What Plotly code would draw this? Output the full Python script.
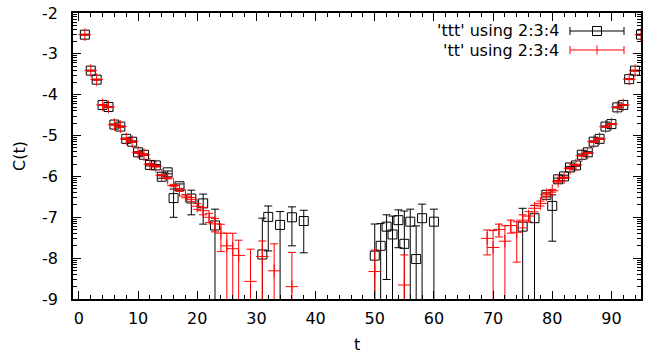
import plotly.graph_objects as go

# ---- data: 'ttt' (black squares) ----
t_ttt = [1, 2, 3, 4, 5, 6, 7, 8, 9, 10, 11, 12, 13, 14, 15, 16, 17, 19, 21, 23,
         31, 32, 34, 36, 38, 50, 51, 52, 53, 54, 55, 56, 57, 58, 60, 75, 77, 79, 80,
         81, 82, 83, 84, 85, 86, 87, 88, 89, 90, 91, 92, 93, 94, 95]
c_ttt = [2.95e-3, 3.89e-4, 2.34e-4, 5.62e-5, 5.01e-5, 1.86e-5, 1.66e-5, 8.32e-6, 7.08e-6,
         3.89e-6, 3.39e-6, 1.91e-6, 1.86e-6, 9.8e-7, 1.26e-6, 2.95e-7, 5.75e-7, 2.88e-7,
         2.19e-7, 6.3e-8,
         1.23e-8, 1.02e-7, 6.5e-8, 1.0e-7, 8.1e-8,
         1.15e-8, 2.0e-8, 5.9e-8, 3.8e-8, 8.5e-8, 2.24e-8, 7.8e-8, 9.5e-9, 9.5e-8, 7.8e-8,
         5.9e-8, 9.5e-8, 3.55e-7, 1.9e-7,
         8.5e-7, 1.0e-6, 1.66e-6, 1.86e-6, 3.39e-6, 3.89e-6, 7.08e-6, 8.32e-6, 1.66e-5,
         1.91e-5, 4.9e-5, 5.62e-5, 2.4e-4, 3.89e-4, 2.95e-3]
e_ttt = [6e-5, 8e-6, 5e-6, 1.2e-6, 1.1e-6, 5e-7, 5e-7, 3e-7, 3e-7,
         1.5e-7, 1.5e-7, 1e-7, 1e-7, 8e-8, 1e-7, 1.95e-7, 8e-8, 1.73e-7,
         1.51e-7, 9.5e-8,
         8.3e-8, 8.7e-8, 7.3e-8, 8e-8, 6.75e-8,
         5.7e-8, 5e-8, 5.6e-8, 6.9e-8, 6.7e-8, 1.2e-7, 8e-8, 5.2e-8, 1.15e-7, 8e-8,
         1.07e-7, 1.0e-7, 4e-8, 1.64e-7,
         6e-8, 7e-8, 8e-8, 8e-8, 1.5e-7, 1.5e-7, 3e-7, 3e-7, 5e-7,
         5e-7, 1.1e-6, 1.2e-6, 5e-6, 8e-6, 6e-5]

# ---- data: 'tt' (red plus) ----
t_tt = [1, 2, 3, 4, 5, 6, 7, 8, 9, 10, 11, 12, 13, 14, 15, 16, 17, 18, 19, 20, 21, 22,
        23, 24, 25, 26, 27, 29, 31, 33, 36, 50, 55,
        69, 70, 71, 72, 73, 74, 75, 76, 77, 78, 79, 80, 81, 82, 83, 84, 85, 86,
        87, 88, 89, 90, 91, 92, 93, 94, 95]
c_tt = [2.95e-3, 3.89e-4, 2.34e-4, 5.62e-5, 5.01e-5, 1.86e-5, 1.66e-5, 8.32e-6, 7.08e-6,
        3.89e-6, 3.39e-6, 2.0e-6, 1.78e-6, 1.07e-6, 9.1e-7, 6.0e-7, 4.7e-7, 3.3e-7,
        2.75e-7, 1.86e-7, 1.45e-7, 1.0e-7,
        6.9e-8, 4.1e-8, 2.0e-8, 1.7e-8, 1.17e-8, 2.7e-9, 1.1e-8, 4.9e-9, 2.0e-9,
        4.7e-9, 2.2e-9,
        3.05e-8, 1.82e-8, 5.05e-8, 2.6e-8, 6.3e-8, 4.3e-8, 8.5e-8, 1.07e-7, 1.66e-7,
        2.19e-7, 3.55e-7, 4.47e-7, 7.6e-7, 9.3e-7, 1.58e-6, 1.91e-6, 3.24e-6, 3.72e-6,
        7.08e-6, 8.32e-6, 1.66e-5, 1.91e-5, 4.9e-5, 5.62e-5, 2.4e-4, 3.89e-4, 2.95e-3]
e_tt = [6e-5, 8e-6, 5e-6, 1.2e-6, 1.1e-6, 5e-7, 5e-7, 3e-7, 3e-7,
        1.5e-7, 1.5e-7, 8e-8, 8e-8, 4e-8, 4e-8, 4e-8, 4e-8, 3e-8,
        3e-8, 3e-8, 3e-8, 2.5e-8,
        2.5e-8, 2.65e-8, 2.07e-8, 2.37e-8, 1.58e-8, 1.39e-8, 1.53e-8, 1.75e-8, 1.18e-8,
        1.11e-8, 9.8e-9,
        1.85e-8, 2.9e-8, 1.75e-8, 3.6e-8, 2.2e-8, 3.5e-8, 3e-8, 3e-8, 3e-8,
        3e-8, 3.5e-8, 3.5e-8, 4e-8, 4e-8, 6e-8, 6e-8, 1e-7, 1e-7,
        3e-7, 3e-7, 5e-7, 5e-7, 1.1e-6, 1.2e-6, 5e-6, 8e-6, 6e-5]

x_ticks = [0, 10, 20, 30, 40, 50, 60, 70, 80, 90]
y_exponents = [-9, -8, -7, -6, -5, -4, -3, -2]
y_ticks = [10.0 ** k for k in y_exponents]
y_ticklabels = [str(k) for k in y_exponents]
y_minor = [m * 10.0 ** k for k in y_exponents[:-1] for m in range(2, 10)]
legend_labels = ["'ttt' using 2:3:4", "'tt' using 2:3:4"]
x_title = "t"
y_title = "C(t)"

W, H = 646, 354
ML, MR, MT, MB = 73, 5, 13, 55
FONT = "DejaVu Sans, Liberation Sans, sans-serif"
FS = 16

fig = go.Figure()
fig.add_trace(go.Scatter(
    x=t_ttt, y=c_ttt, mode="markers", name=legend_labels[0],
    marker=dict(symbol="square-open", size=9, color="black", line=dict(width=1, color="black")),
    error_y=dict(type="data", array=e_ttt, symmetric=True, color="black", thickness=1, width=4),
    showlegend=False))
fig.add_trace(go.Scatter(
    x=t_tt, y=c_tt, mode="markers", name=legend_labels[1],
    marker=dict(symbol="cross-thin-open", size=9, color="red", line=dict(width=1, color="red")),
    error_y=dict(type="data", array=e_tt, symmetric=True, color="red", thickness=1, width=4),
    showlegend=False))


def px_x(p):
    return (p - ML) / (W - ML - MR)


def px_y(p):
    return (H - MB - p) / (H - MT - MB)


# legend drawn gnuplot-style (text left of sample)
rows_y = [31, 50]
colors = ["black", "red"]
shapes = []
annotations = []
x0s, x1s, xm = 570, 624, 597
for i, lab in enumerate(legend_labels):
    yy = rows_y[i]
    annotations.append(dict(x=px_x(561), y=px_y(yy), xref="paper", yref="paper",
                            text=lab, showarrow=False, xanchor="right", yanchor="middle",
                            font=dict(family=FONT, size=FS, color="black")))
    c = colors[i]
    shapes.append(dict(type="line", xref="paper", yref="paper", x0=px_x(x0s), x1=px_x(x1s),
                       y0=px_y(yy), y1=px_y(yy), line=dict(color=c, width=1)))
    for xe in (x0s, x1s):
        shapes.append(dict(type="line", xref="paper", yref="paper", x0=px_x(xe), x1=px_x(xe),
                           y0=px_y(yy - 4), y1=px_y(yy + 4), line=dict(color=c, width=1)))
    if i == 0:
        shapes.append(dict(type="rect", xref="paper", yref="paper", x0=px_x(xm - 4.5), x1=px_x(xm + 4.5),
                           y0=px_y(yy - 4.5), y1=px_y(yy + 4.5), line=dict(color=c, width=1)))
    else:
        shapes.append(dict(type="line", xref="paper", yref="paper", x0=px_x(xm), x1=px_x(xm),
                           y0=px_y(yy - 4.5), y1=px_y(yy + 4.5), line=dict(color=c, width=1)))

# axis titles
annotations.append(dict(x=px_x(357), y=px_y(344), xref="paper", yref="paper", text=x_title,
                        showarrow=False, xanchor="center", yanchor="middle",
                        font=dict(family=FONT, size=FS, color="black")))
annotations.append(dict(x=px_x(19), y=px_y(156), xref="paper", yref="paper", text=y_title,
                        showarrow=False, xanchor="center", yanchor="middle", textangle=-90,
                        font=dict(family=FONT, size=FS, color="black")))

fig.update_layout(
    width=W, height=H,
    margin=dict(l=ML, r=MR, t=MT, b=MB, autoexpand=False),
    paper_bgcolor="white", plot_bgcolor="white",
    font=dict(family=FONT, size=FS, color="black"),
    shapes=shapes, annotations=annotations,
    showlegend=False,
)
fig.update_xaxes(
    range=[-1, 95], tickvals=x_ticks, ticks="inside", ticklen=8, tickwidth=1,
    tickcolor="black", showline=True, linecolor="black", linewidth=1.5, mirror="ticks",
    showgrid=False, zeroline=False, automargin=False,
    minor=dict(dtick=2, tick0=0, ticks="inside", ticklen=4, tickcolor="black", showgrid=False),
    tickfont=dict(family=FONT, size=FS), ticklabelstandoff=4,
)
fig.update_yaxes(
    type="log", range=[-9, -2], tickvals=y_ticks, ticktext=y_ticklabels,
    ticks="inside", ticklen=8, tickwidth=1, tickcolor="black",
    showline=True, linecolor="black", linewidth=1.5, mirror="ticks",
    showgrid=False, zeroline=False, automargin=False,
    minor=dict(tickvals=y_minor, ticks="inside", ticklen=4, tickcolor="black", showgrid=False),
    tickfont=dict(family=FONT, size=FS), ticklabelstandoff=10,
)

fig.write_html("out.html", config={"displayModeBar": False},
               post_script="document.body.style.margin='0px';document.body.style.padding='0px';")
